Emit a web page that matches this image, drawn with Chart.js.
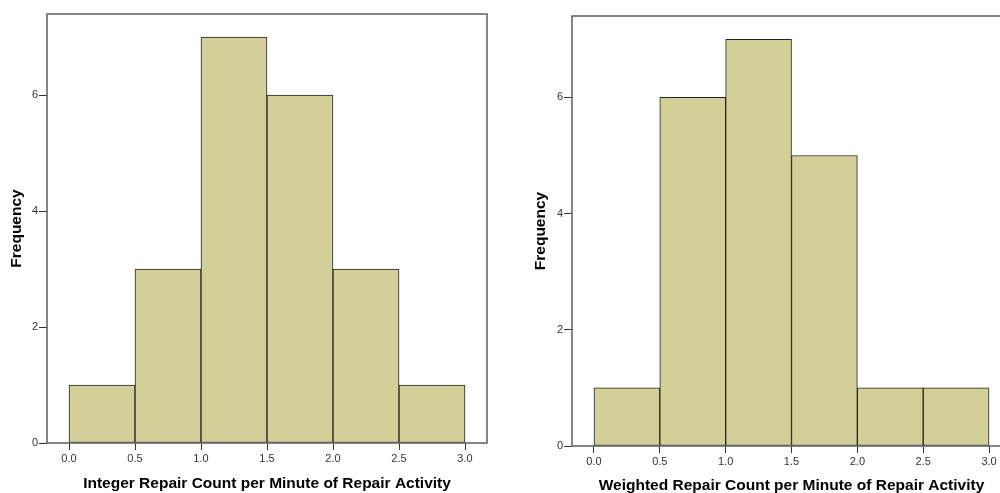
<!DOCTYPE html>
<html>
<head>
<meta charset="utf-8">
<script src="https://cdn.jsdelivr.net/npm/chart.js@4/dist/chart.umd.min.js"></script>
<style>
  html, body { margin: 0; padding: 0; background: #fff; overflow: hidden; width: 1000px; height: 493px; }
  #wrap { position: relative; width: 1000px; height: 493px; overflow: hidden; }
  canvas { position: absolute; top: 0; }
  #c1 { left: 0; }
  #c2 { left: 500px; }
</style>
</head>
<body>
<div id="wrap">
  <canvas id="c1" width="500" height="493"></canvas>
  <canvas id="c2" width="525" height="493"></canvas>
</div>
<script>
// Bin centres (bin width 0.5) shared by both histograms
const binCentres = [0.25, 0.75, 1.25, 1.75, 2.25, 2.75];
const integerCounts = [1, 3, 7, 6, 3, 1];
const weightedCounts = [1, 6, 7, 5, 1, 1];
const xTickValues = [0.0, 0.5, 1.0, 1.5, 2.0, 2.5, 3.0];
const yTickValues = [0, 2, 4, 6];
const xTitleInteger = 'Integer Repair Count per Minute of Repair Activity';
const xTitleWeighted = 'Weighted Repair Count per Minute of Repair Activity';
const yTitle = 'Frequency';

const BAR_FILL = '#d3cf99';
const BAR_EDGE = '#222222';
const FRAME = '#5e5e5e';
const TICK_TEXT = '#333333';

// Box around the plotting area
const framePlugin = {
  id: 'frame',
  afterDatasetsDraw(chart) {
    const a = chart.chartArea;
    const ctx = chart.ctx;
    ctx.save();
    ctx.strokeStyle = FRAME;
    ctx.lineWidth = 1.5;
    ctx.strokeRect(a.left, a.top, a.right - a.left, a.bottom - a.top);
    ctx.restore();
  }
};

function histogram(canvasId, counts, xTitle, g) {
  const points = binCentres.map((c, i) => ({ x: c, y: counts[i] }));
  return new Chart(document.getElementById(canvasId), {
    type: 'bar',
    data: {
      datasets: [{
        data: points,
        backgroundColor: BAR_FILL,
        borderColor: BAR_EDGE,
        borderWidth: 1,
        borderSkipped: false,
        barPercentage: 1,
        categoryPercentage: 1
      }]
    },
    options: {
      responsive: false,
      animation: false,
      devicePixelRatio: 1,
      layout: { padding: { top: g.top, right: g.right, left: g.left, bottom: 0 } },
      plugins: { legend: { display: false }, tooltip: { enabled: false } },
      scales: {
        x: {
          type: 'linear',
          min: -1 / 6,
          max: 3 + 1 / 6,
          offset: false,
          afterBuildTicks(scale) { scale.ticks = xTickValues.map(v => ({ value: v })); },
          afterFit(scale) { scale.height = g.xHeight; },
          grid: { offset: false, drawOnChartArea: false, drawTicks: true, tickLength: 7, color: '#333', lineWidth: 1 },
          border: { display: false },
          ticks: {
            padding: 2,
            maxRotation: 0,
            autoSkip: false,
            color: TICK_TEXT,
            font: { family: 'Liberation Sans, Arial, sans-serif', size: 11 },
            callback: v => Number(v).toFixed(1)
          },
          title: {
            display: true,
            text: xTitle,
            color: '#000',
            font: { family: 'Liberation Sans, Arial, sans-serif', size: 15.5, weight: 'bold', lineHeight: 1 },
            padding: { top: 0, bottom: g.xTitlePad }
          }
        },
        y: {
          min: 0,
          max: 7.4,
          afterBuildTicks(scale) { scale.ticks = yTickValues.map(v => ({ value: v })); },
          afterFit(scale) { scale.width = g.yWidth; },
          grid: { drawOnChartArea: false, drawTicks: true, tickLength: 8, color: '#333', lineWidth: 1 },
          border: { display: false },
          ticks: {
            padding: 1,
            color: TICK_TEXT,
            font: { family: 'Liberation Sans, Arial, sans-serif', size: 11 },
            callback: v => String(v)
          },
          title: {
            display: true,
            text: yTitle,
            color: '#000',
            font: { family: 'Liberation Sans, Arial, sans-serif', size: 15.5, weight: 'bold', lineHeight: 1 },
            padding: { top: g.yTitlePad, bottom: 0 }
          }
        }
      }
    },
    plugins: [framePlugin]
  });
}

histogram('c1', integerCounts, xTitleInteger,
  { top: 14, right: 13, left: 0, yWidth: 47, xHeight: 50, xTitlePad: 2, yTitlePad: 9 });
histogram('c2', weightedCounts, xTitleWeighted,
  { top: 16, right: 14, left: 0, yWidth: 72, xHeight: 47, xTitlePad: 0, yTitlePad: 33 });
</script>
</body>
</html>
